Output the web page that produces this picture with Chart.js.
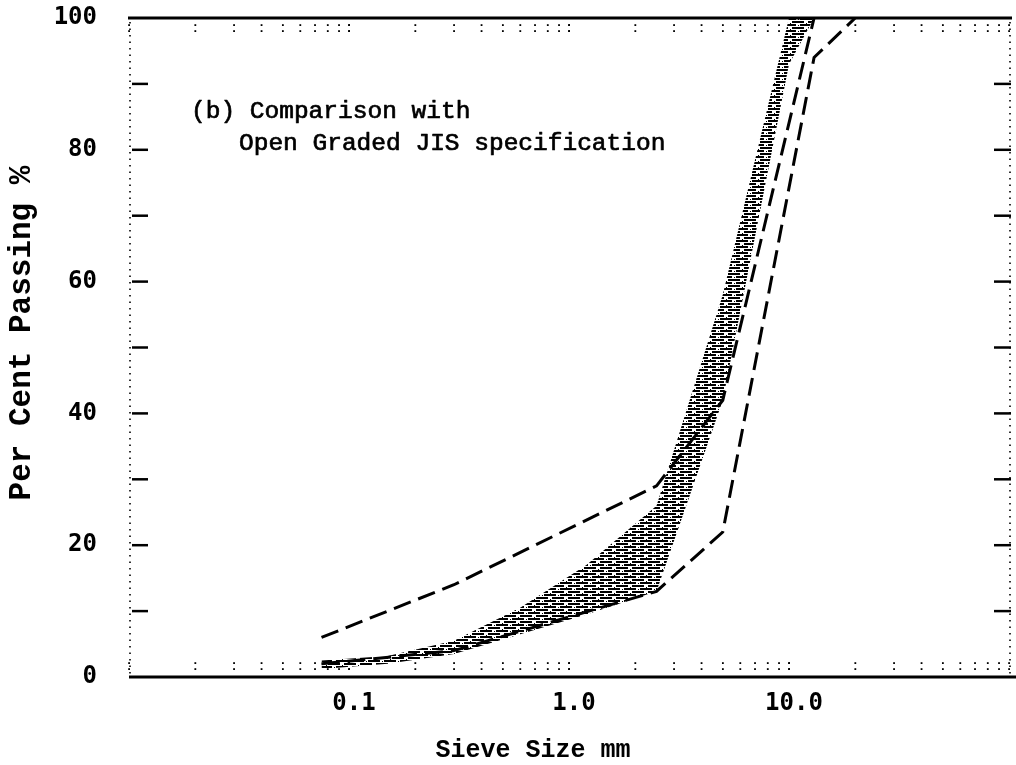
<!DOCTYPE html>
<html>
<head>
<meta charset="utf-8">
<title>Sieve analysis – Open Graded JIS specification</title>
<script src="https://cdn.jsdelivr.net/npm/chart.js@4.4.1/dist/chart.umd.min.js"></script>
<style>
  html, body { margin: 0; padding: 0; background: #fff; }
  canvas { display: block; }
</style>
</head>
<body>
<canvas id="chart" width="1016" height="765"></canvas>
<script>
// Sieve sizes (mm) and per cent passing of the tested materials (range band)
const bandSizes = [0.075, 0.15, 0.3, 0.6, 1.2, 2.5, 5, 10, 13];
const bandLower = [1.2, 2, 3.5, 6.5, 9.5, 13, 42, 93, 100];
const bandUpper = [2.5, 3.2, 5.5, 10.5, 17, 26, 58, 100, 100];

// Open graded JIS specification limits
const jisUpperSizes = [0.075, 0.3, 2.5, 5, 13];
const jisUpper = [6, 14, 29, 42, 100];
const jisLowerSizes = [0.075, 0.3, 2.5, 5, 13, 20];
const jisLower = [2, 4, 13, 22, 94, 100];

// Axis ticks
const xTickValues = [0.1, 1, 10];
const xTickLabels = ['0.1', '1.0', '10.0'];
const yTickValues = [0, 20, 40, 60, 80, 100];
const yMarkValues = [10, 20, 30, 40, 50, 60, 70, 80, 90];

const xTitle = 'Sieve Size mm';
const yTitle = 'Per Cent Passing %';
const noteLines = ['(b) Comparison with', 'Open Graded JIS specification'];

const pts = (xs, ys) => xs.map((v, i) => ({ x: v, y: ys[i] }));

// Horizontal dash hatching used for the material band
function makeHatch() {
  const c = document.createElement('canvas');
  c.width = 16; c.height = 6;
  const g = c.getContext('2d');
  g.fillStyle = '#000';
  g.fillRect(0, 0, 12, 2);
  g.fillRect(8, 3, 8, 2);
  g.fillRect(0, 3, 4, 2);
  g.fillRect(14, 1, 1, 1);
  g.fillRect(6, 5, 1, 1);
  return g.createPattern(c, 'repeat');
}

// Frame: solid top/bottom rules, dotted side borders, tick marks, titles and note
const framePlugin = {
  id: 'frame',
  afterDraw(chart) {
    const { ctx, chartArea: a, scales: { x, y } } = chart;
    ctx.save();
    ctx.strokeStyle = '#000';
    ctx.fillStyle = '#000';

    const seg = (x1, y1, x2, y2) => { ctx.beginPath(); ctx.moveTo(x1, y1); ctx.lineTo(x2, y2); ctx.stroke(); };

    // dotted side borders
    ctx.lineWidth = 1.6;
    ctx.setLineDash([1.5, 5]);
    seg(a.left + 1, a.top + 4, a.left + 1, a.bottom);
    seg(a.right + 1, a.top + 4, a.right + 1, a.bottom);
    ctx.setLineDash([]);

    // top and bottom rules
    ctx.lineWidth = 3;
    seg(a.left - 1, a.top, a.right + 3, a.top);
    seg(a.left, a.bottom, 1016, a.bottom);

    // inward major ticks on both sides
    ctx.lineWidth = 2.5;
    yMarkValues.forEach(v => {
      const py = y.getPixelForValue(v);
      seg(a.left + 3, py, a.left + 19, py);
      seg(a.right - 15, py, a.right + 2, py);
    });

    // minor logarithmic ticks drawn as small dotted marks
    const decades = [0.01, 0.1, 1, 10];
    decades.forEach(d => {
      for (let k = 1; k <= 10; k++) {
        const px = x.getPixelForValue(d * k);
        if (px < a.left - 1 || px > a.right + 1) continue;
        [a.top + 7, a.top + 13, a.bottom - 14, a.bottom - 8].forEach(py => {
          ctx.fillRect(px - 0.8, py - 0.8, 1.8, 1.8);
        });
      }
    });

    // axis titles
    ctx.font = 'bold 25px "Liberation Mono", "Courier New", monospace';
    ctx.textAlign = 'center';
    ctx.textBaseline = 'middle';
    ctx.fillText(xTitle, 533, 751);

    ctx.save();
    ctx.translate(22, 333);
    ctx.rotate(-Math.PI / 2);
    ctx.font = 'bold 31px "Liberation Mono", "Courier New", monospace';
    ctx.fillText(yTitle, 0, 0);
    ctx.restore();

    // note text, slightly emboldened typewriter face
    ctx.font = '24.5px "Liberation Mono", "Courier New", monospace';
    ctx.textBaseline = 'alphabetic';
    ctx.textAlign = 'left';
    ctx.lineWidth = 0.7;
    ctx.lineJoin = 'round';
    ctx.fillText(noteLines[0], 191, 118);
    ctx.strokeText(noteLines[0], 191, 118);
    ctx.fillText(noteLines[1], 239, 150);
    ctx.strokeText(noteLines[1], 239, 150);
    ctx.restore();
  }
};

const hatch = makeHatch();

new Chart(document.getElementById('chart'), {
  type: 'line',
  data: {
    datasets: [
      {
        label: 'JIS upper limit',
        data: pts(jisUpperSizes, jisUpper),
        borderColor: '#000', borderWidth: 3, borderDash: [18, 8],
        pointRadius: 0, fill: false, tension: 0
      },
      {
        label: 'JIS lower limit',
        data: pts(jisLowerSizes, jisLower),
        borderColor: '#000', borderWidth: 3, borderDash: [18, 8],
        pointRadius: 0, fill: false, tension: 0
      },
      {
        label: 'Material lower',
        data: pts(bandSizes, bandLower),
        borderColor: 'rgba(0,0,0,0)', borderWidth: 0,
        pointRadius: 0, fill: false, tension: 0
      },
      {
        label: 'Material upper',
        data: pts(bandSizes, bandUpper),
        borderColor: 'rgba(0,0,0,0)', borderWidth: 0,
        backgroundColor: hatch,
        pointRadius: 0, fill: '-1', tension: 0
      }
    ]
  },
  options: {
    responsive: false,
    animation: false,
    layout: { padding: { left: 0, right: 7, top: 18, bottom: 0 } },
    plugins: {
      legend: { display: false },
      tooltip: { enabled: false },
      title: { display: false }
    },
    scales: {
      x: {
        type: 'logarithmic',
        min: 0.01,
        max: 100,
        grid: { display: false, drawTicks: false },
        border: { display: false },
        afterFit(s) { s.height = 88; s.paddingLeft = 0; s.paddingRight = 0; },
        afterBuildTicks(s) { s.ticks = xTickValues.map(v => ({ value: v })); },
        ticks: {
          autoSkip: false,
          maxRotation: 0,
          padding: 12,
          labelOffset: 5,
          color: '#000',
          font: { family: '"DejaVu Sans Mono", monospace', size: 24, weight: 'bold' },
          callback: (v, i) => xTickLabels[i]
        },
        title: { display: false }
      },
      y: {
        type: 'linear',
        min: 0,
        max: 100,
        grid: { display: false, drawTicks: false },
        border: { display: false },
        afterFit(s) { s.width = 129; s.paddingTop = 0; s.paddingBottom = 0; },
        afterBuildTicks(s) { s.ticks = yTickValues.map(v => ({ value: v })); },
        ticks: {
          padding: 32,
          color: '#000',
          font: { family: '"DejaVu Sans Mono", monospace', size: 24, weight: 'bold' }
        },
        title: { display: false }
      }
    }
  },
  plugins: [framePlugin]
});
</script>
</body>
</html>
